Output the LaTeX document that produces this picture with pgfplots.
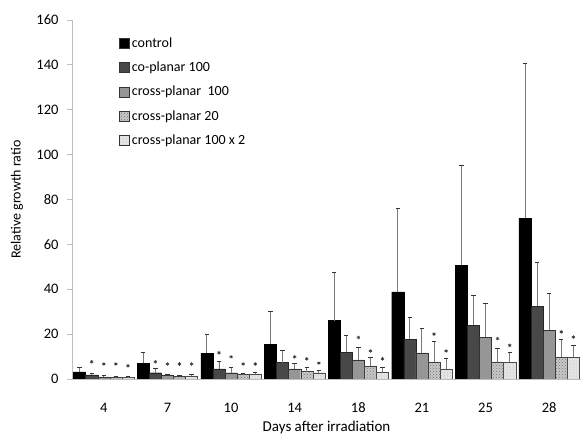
\documentclass[border=0pt]{standalone}
\usepackage{fontspec}
\setmainfont{Carlito}
\usepackage{pgfplots}
\pgfplotsset{compat=1.18}
\usetikzlibrary{patterns}
\definecolor{axgray}{RGB}{190,190,190}
\definecolor{cop}{RGB}{72,72,72}
\definecolor{cr100}{RGB}{150,150,150}
\definecolor{cr20}{RGB}{200,200,200}
\definecolor{crx2}{RGB}{228,228,228}
\definecolor{errgray}{RGB}{120,120,120}

\pgfplotsset{
    base/.style={
        scale only axis,
        width=509pt, height=359pt,
        xmin=-0.5, xmax=7.5,
        ymin=0, ymax=160,
    },
}

\begin{document}
\begin{tikzpicture}
% page frame: 72pt left of the axis, 57pt below, 20pt above
\useasboundingbox (-72pt,-57pt) rectangle (509pt,379pt);
\begin{axis}[
    base,
    ybar=0pt, bar width=0.19,
    ytick={0,20,...,160},
    xtick={0,...,7},
    xticklabels={4,7,10,14,18,21,25,28},
    major x tick style={draw=none},
    extra x ticks={-0.5,0.5,...,7.5},
    extra x tick labels={},
    extra x tick style={tick style={draw=axgray, line width=0.8pt}},
    ytick style={draw=axgray, line width=0.8pt},
    tick align=outside, major tick length=5pt,
    axis x line*=bottom, axis y line*=left,
    axis line style={draw=axgray, line width=0.8pt, -},
    /pgf/number format/assume math mode=true,
    tick label style={font=\fontsize{14.5}{17}\selectfont},
    xticklabel style={anchor=center, yshift=-24pt},
    yticklabel style={anchor=east, xshift=-5pt},
    xlabel={Days after irradiation},
    ylabel={Relative growth ratio},
    xlabel style={font=\fontsize{15}{18}\selectfont, at={(axis description cs:0.5,-0.145)},
        anchor=base, inner sep=0pt},
    ylabel style={font=\fontsize{14}{17}\selectfont, at={(axis description cs:-0.108,0.5)}, anchor=center},
    legend cell align=left,
    legend style={draw=none, fill=none, at={(axis description cs:0.087,0.962)}, anchor=north west,
        font=\fontsize{14}{17}\selectfont, row sep=9pt},
    legend image code/.code={\draw[#1, draw=black!80, line width=0.4pt] (0pt,-5pt) rectangle (10pt,5pt);},
    error bars/y dir=plus, error bars/y explicit,
    error bars/error bar style={draw=errgray, line width=0.9pt},
    error bars/error mark options={rotate=90, draw=black!80, mark size=2.2pt, line width=1pt},
]
\addplot[fill=black, draw=black] coordinates {
    (0,3.2) +- (0,1.8) (1,7.1) +- (0,4.5) (2,11.5) +- (0,8.5) (3,15.5) +- (0,14.5)
    (4,26) +- (0,21.6) (5,38.8) +- (0,37.2) (6,50.8) +- (0,44.2) (7,71.7) +- (0,68.8)
};
\addlegendentry{control}
\addplot[fill=cop, draw=black!85] coordinates {
    (0,1.8) +- (0,0.6) (1,2.8) +- (0,1.7) (2,4.5) +- (0,3.1) (3,7.3) +- (0,5.5)
    (4,12) +- (0,7.6) (5,17.8) +- (0,9.8) (6,24) +- (0,13) (7,32.5) +- (0,19.2)
};
\addlegendentry{co-planar 100}
\addplot[fill=cr100, draw=black!80] coordinates {
    (0,1.0) +- (0,0.4) (1,1.8) +- (0,0.4) (2,2.8) +- (0,2.2) (3,4.5) +- (0,2.6)
    (4,8.5) +- (0,5.7) (5,11.6) +- (0,11.1) (6,18.7) +- (0,15.1) (7,21.8) +- (0,16.5)
};
\addlegendentry{cross-planar\ \ 100}
\addplot[fill=cr20, draw=black!75,
    postaction={pattern=crosshatch dots, pattern color=black!55}] coordinates {
    (0,0.8) +- (0,0.2) (1,1.2) +- (0,0.4) (2,2.0) +- (0,0.6) (3,3.3) +- (0,2.0)
    (4,5.8) +- (0,3.6) (5,7.6) +- (0,8.9) (6,7.6) +- (0,5.8) (7,9.8) +- (0,8.0)
};
\addlegendentry{cross-planar 20}
\addplot[fill=crx2, draw=black!70,
    postaction={pattern=dots, pattern color=black!30}] coordinates {
    (0,0.7) +- (0,0.2) (1,1.3) +- (0,0.7) (2,2.1) +- (0,1.0) (3,2.8) +- (0,0.9)
    (4,3.0) +- (0,2.3) (5,4.5) +- (0,4.5) (6,7.6) +- (0,4.0) (7,9.6) +- (0,5.4)
};
\addlegendentry{cross-planar 100 x 2}
\end{axis}
% significance stars
\begin{axis}[base, hide axis]
\addplot[only marks, mark=asterisk, mark size=1.8pt, mark options={line width=0.6pt, black!80}] coordinates {
    (-0.19,7.7) (0.81,7.7) (1.81,11.7)
    (0,6.7) (1,6.7) (2,9.9) (3,9.9) (4,18.5)
    (0.19,6.7) (1.19,6.7) (2.19,6.7) (3.19,9.0) (4.19,12.5) (5.19,20) (6.19,18) (7.19,21)
    (0.38,5.9) (1.38,6.7) (2.38,6.7) (3.38,7.1) (4.38,9.0) (5.38,12.5) (6.38,15) (7.38,18.7)
};
\end{axis}
\end{tikzpicture}
\end{document}
